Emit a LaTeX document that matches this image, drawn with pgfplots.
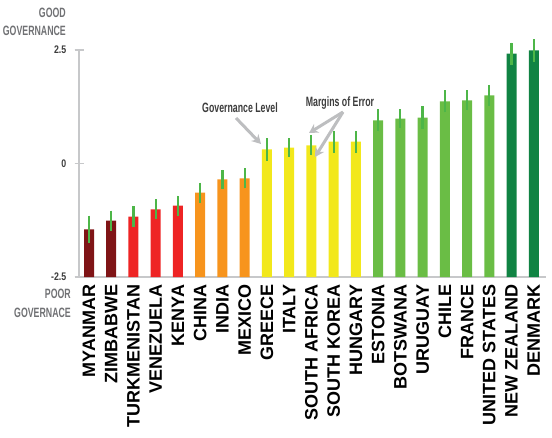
\documentclass[border=0pt]{standalone}
\usepackage{fontspec}
\usepackage{pgfplots}
\usepackage{pgfplotstable}
\pgfplotsset{compat=1.18}
\usetikzlibrary{arrows.meta}
\setmainfont{Liberation Sans}
\newfontfamily\cond{Liberation Sans}[FakeStretch=0.65]
\newfontfamily\tickf{Liberation Sans}[FakeStretch=0.8]

\definecolor{dred}{HTML}{7F1416}
\definecolor{cred}{HTML}{EE2424}
\definecolor{corange}{HTML}{F7941D}
\definecolor{cyellow}{HTML}{F2E81B}
\definecolor{lgreen}{HTML}{6ABD45}
\definecolor{dgreen}{HTML}{108343}
\definecolor{errg}{HTML}{4DB648}
\definecolor{axgray}{HTML}{C7C8CA}
\definecolor{arrgray}{HTML}{BDBEC0}
\definecolor{lblgray}{HTML}{707174}
\definecolor{txtdark}{HTML}{3C3C3C}

% governance score and margin of error
\pgfplotstableread{
x  v      e
0  -1.45  0.30
1  -1.26  0.22
2  -1.17  0.23
3  -1.01  0.22
4  -0.93  0.22
5  -0.64  0.22
6  -0.35  0.21
7  -0.33  0.22
8   0.31  0.25
9   0.35  0.21
10  0.40  0.22
11  0.48  0.24
12  0.48  0.24
13  0.95  0.24
14  0.99  0.20
15  1.01  0.25
16  1.37  0.24
17  1.39  0.22
18  1.50  0.23
19  2.42  0.24
20  2.49  0.25
}\govdata

\pgfplotsset{
  govbar/.style={ybar, bar width=10bp, bar shift=0pt, draw=none, fill=#1,
    error bars/y dir=both, error bars/y explicit,
    error bars/error bar style={errg, line width=2.2bp},
    error bars/error mark=none},
}

\begin{document}
\begin{tikzpicture}
\useasboundingbox (0,0) rectangle (552bp,438bp);
\begin{axis}[
  at={(79bp,161bp)}, anchor=south west,
  scale only axis, width=467bp, height=227bp,
  xmin=-0.45, xmax=20.55, ymin=0, ymax=5,
  axis lines=left,
  axis line style={axgray, line width=2.2bp, -},
  clip=false,
  ytick={0,2.5,5}, yticklabels={-2.5,0,2.5},
  major tick length=9bp, tick align=center,
  tick style={draw=axgray, line width=1.8bp},
  yticklabel style={font=\tickf\bfseries\fontsize{11bp}{13bp}\selectfont,
    text=txtdark, inner sep=0pt, anchor=east, xshift=-8bp},
  xtick={0,...,20},
  xticklabels={MYANMAR,ZIMBABWE,TURKMENISTAN,VENEZUELA,KENYA,CHINA,INDIA,MEXICO,
    GREECE,ITALY,SOUTH AFRICA,SOUTH KOREA,HUNGARY,ESTONIA,BOTSWANA,URUGUAY,
    CHILE,FRANCE,UNITED STATES,NEW ZEALAND,DENMARK},
  xtick style={draw=none},
  xticklabel style={rotate=90, anchor=east, inner ysep=0pt, inner xsep=3bp,
    font=\bfseries\fontsize{18bp}{20bp}\selectfont, text=black},
]
\addplot[govbar=dred, restrict x to domain=0:1]
  table[x=x, y expr=\thisrow{v}+2.5, y error=e] {\govdata};
\addplot[govbar=cred, restrict x to domain=2:4]
  table[x=x, y expr=\thisrow{v}+2.5, y error=e] {\govdata};
\addplot[govbar=corange, restrict x to domain=5:7]
  table[x=x, y expr=\thisrow{v}+2.5, y error=e] {\govdata};
\addplot[govbar=cyellow, restrict x to domain=8:12]
  table[x=x, y expr=\thisrow{v}+2.5, y error=e] {\govdata};
\addplot[govbar=lgreen, restrict x to domain=13:18]
  table[x=x, y expr=\thisrow{v}+2.5, y error=e] {\govdata};
\addplot[govbar=dgreen, restrict x to domain=19:20]
  table[x=x, y expr=\thisrow{v}+2.5, y error=e] {\govdata};
% y tick crosses on the axis line
\draw[axgray, line width=1.8bp] ([xshift=-4.5bp]axis cs:-0.45,0) -- ([xshift=4.5bp]axis cs:-0.45,0);
\draw[axgray, line width=1.8bp] ([xshift=-4.5bp]axis cs:-0.45,2.5) -- ([xshift=4.5bp]axis cs:-0.45,2.5);
\draw[axgray, line width=1.8bp] ([xshift=-4.5bp]axis cs:-0.45,5) -- ([xshift=4.5bp]axis cs:-0.45,5);
\end{axis}

% side captions
\begin{scope}[every node/.style={inner sep=0pt, text=lblgray,
    font=\cond\bfseries\fontsize{13.5bp}{15bp}\selectfont}]
\node[anchor=base east] at (66bp,420bp) {GOOD};
\node[anchor=base east] at (66bp,402bp) {GOVERNANCE};
\node[anchor=base east] at (71bp,139bp) {POOR};
\node[anchor=base east] at (71bp,120bp) {GOVERNACE};
\end{scope}

% annotations
\begin{scope}[every node/.style={inner sep=0pt, text=txtdark,
    font=\cond\bfseries\fontsize{13.5bp}{15bp}\selectfont}]
\node[anchor=base] at (240bp,325bp) {Governance Level};
\node[anchor=base] at (340bp,331bp) {Margins of Error};
\end{scope}
\begin{scope}[arrgray, line width=3bp, -{Stealth[length=9bp,width=10bp]}]
\draw (236bp,320bp) -- (261bp,294bp);
\draw (343bp,326bp) -- (309bp,305bp);
\draw (343bp,326bp) -- (315bp,281bp);
\end{scope}
\end{tikzpicture}
\end{document}
